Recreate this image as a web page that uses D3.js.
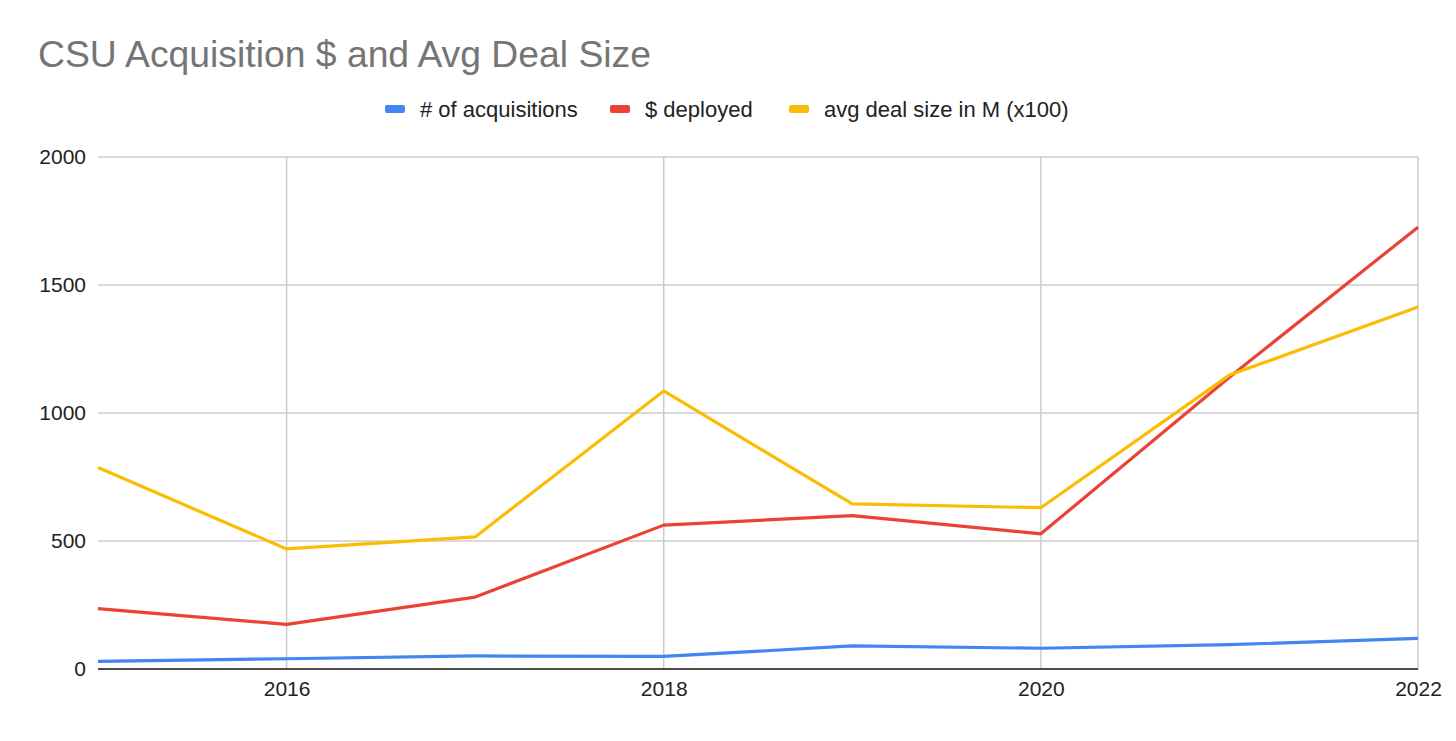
<!DOCTYPE html>
<html>
<head>
<meta charset="utf-8">
<title>CSU Acquisition $ and Avg Deal Size</title>
<script src="https://d3js.org/d3.v7.min.js"></script>
<style>
  body { margin: 0; background: #fff; }
  text { font-family: "Liberation Sans", Arial, sans-serif; }
</style>
</head>
<body>
<svg id="chart" width="1456" height="741"></svg>
<script>
// data
var years = [2015, 2016, 2017, 2018, 2019, 2020, 2021, 2022];
var acquisitions = [30, 40, 51, 49, 90, 81, 95, 120];
var deployed = [236, 174, 281, 562, 599, 528, 1140, 1726];
var avgDeal = [787, 469, 516, 1086, 645, 630, 1148, 1414];
var yTicks = [0, 500, 1000, 1500, 2000];
var xTicks = [2016, 2018, 2020, 2022];

var series = [
  { name: "# of acquisitions", color: "#4285f4", values: acquisitions },
  { name: "$ deployed", color: "#ea4335", values: deployed },
  { name: "avg deal size in M (x100)", color: "#fbbc04", values: avgDeal }
];

var svg = d3.select("#chart");
var plotL = 98, plotR = 1418, plotT = 157, plotB = 669;

var x = d3.scaleLinear().domain([2015, 2022]).range([plotL, plotR]);
var y = d3.scaleLinear().domain([0, 2000]).range([plotB, plotT]);

// title
svg.append("text")
  .attr("x", 38).attr("y", 67)
  .attr("font-size", 37.3)
  .attr("fill", "#757575")
  .text("CSU Acquisition $ and Avg Deal Size");

// horizontal grid
svg.append("g")
  .selectAll("line")
  .data(yTicks.slice(1))
  .enter().append("line")
  .attr("x1", plotL).attr("x2", plotR)
  .attr("y1", function(d) { return y(d); })
  .attr("y2", function(d) { return y(d); })
  .attr("stroke", "#cccccc").attr("stroke-width", 1.5);

// vertical grid
svg.append("g")
  .selectAll("line")
  .data(xTicks)
  .enter().append("line")
  .attr("x1", function(d) { return x(d); })
  .attr("x2", function(d) { return x(d); })
  .attr("y1", plotT).attr("y2", plotB)
  .attr("stroke", "#cccccc").attr("stroke-width", 1.5);

// y axis labels
var yAxis = d3.axisLeft(y).tickValues(yTicks).tickFormat(d3.format("d")).tickSize(0).tickPadding(12);
var gy = svg.append("g").attr("transform", "translate(" + plotL + ",0)").call(yAxis);
gy.select(".domain").remove();
gy.selectAll("text")
  .attr("font-size", 21).attr("fill", "#222")
  .style("font-family", "'Liberation Sans', Arial, sans-serif");

// x axis labels
var xAxis = d3.axisBottom(x).tickValues(xTicks).tickFormat(d3.format("d")).tickSize(0).tickPadding(12);
var gx = svg.append("g").attr("transform", "translate(0," + plotB + ")").call(xAxis);
gx.select(".domain").remove();
gx.selectAll("text")
  .attr("font-size", 21).attr("fill", "#222")
  .style("font-family", "'Liberation Sans', Arial, sans-serif");

// lines
var line = d3.line()
  .x(function(d, i) { return x(years[i]); })
  .y(function(d) { return y(d); });

svg.append("g")
  .selectAll("path")
  .data(series)
  .enter().append("path")
  .attr("d", function(s) { return line(s.values); })
  .attr("fill", "none")
  .attr("stroke", function(s) { return s.color; })
  .attr("stroke-width", 3.2)
  .attr("stroke-linejoin", "round");

// baseline
svg.append("line")
  .attr("x1", plotL).attr("x2", plotR)
  .attr("y1", plotB).attr("y2", plotB)
  .attr("stroke", "#111").attr("stroke-width", 1.6);

// legend
var legendX = [385, 610, 789];
var lg = svg.append("g")
  .selectAll("g")
  .data(series)
  .enter().append("g")
  .attr("transform", function(d, i) { return "translate(" + legendX[i] + ",109)"; });
lg.append("rect")
  .attr("x", 0).attr("y", -4)
  .attr("width", 20).attr("height", 8)
  .attr("rx", 2)
  .attr("fill", function(d) { return d.color; });
lg.append("text")
  .attr("x", 35).attr("y", 7.5)
  .attr("font-size", 22).attr("fill", "#222")
  .text(function(d) { return d.name; });
</script>
</body>
</html>
